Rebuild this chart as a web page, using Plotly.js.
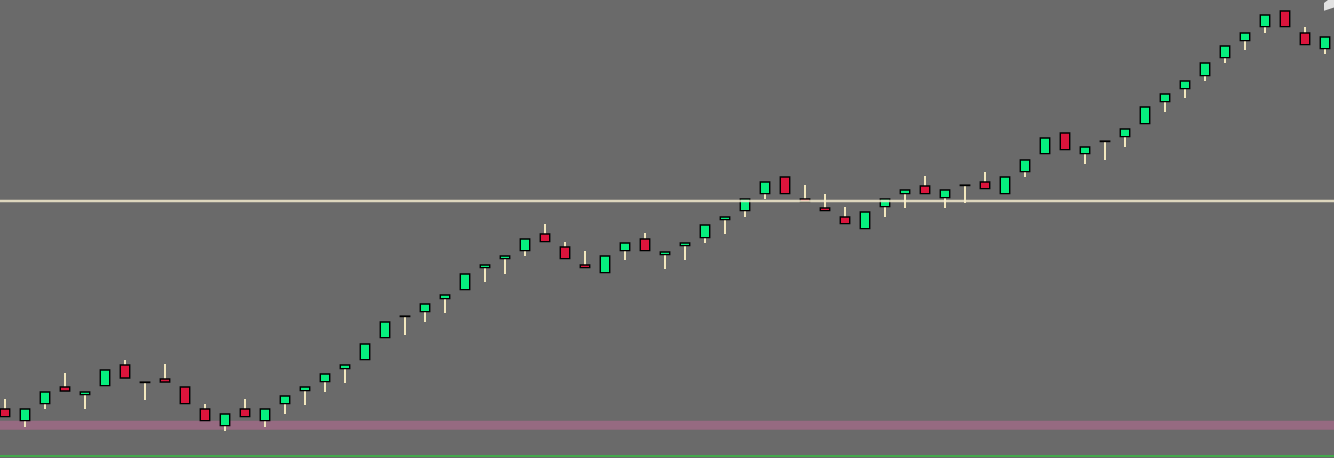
<!DOCTYPE html>
<html>
<head>
<meta charset="utf-8">
<script src="https://cdn.plot.ly/plotly-3.0.1.min.js"></script>
<style>
html,body{margin:0;padding:0;background:#6a6a6a;}
#chart{width:1334px;height:458px;}
</style>
</head>
<body>
<div id="chart"></div>
<script>
// Candle values, one entry per bar
const open  = [49.0,37.4,54.4,71.0,63.4,72.4,93.0,75.5,79.0,71.0,49.0,32.4,49.0,37.4,54.4,67.4,76.4,89.4,98.4,120.4,141.5,146.4,159.4,168.4,190.4,199.4,207.4,224.0,211.0,193.0,185.4,207.4,219.0,203.4,212.4,220.4,238.4,247.4,264.4,281.0,259.0,250.0,241.0,229.4,251.4,264.4,272.0,260.4,272.5,276.0,264.4,286.4,304.4,325.0,304.4,316.5,321.4,334.4,356.4,369.4,382.4,400.4,417.4,431.4,447.0,425.0,409.4];
const high  = [59.0,49.0,66.0,85.0,66.0,88.0,98.0,75.9,94.0,71.0,54.0,44.0,58.7,49.0,62.0,71.0,84.0,93.0,114.0,136.0,141.9,154.0,163.0,184.0,193.0,202.0,219.0,234.0,216.0,207.0,202.0,215.0,225.0,206.0,215.0,233.0,241.0,259.0,276.0,281.0,273.0,264.0,251.0,246.0,259.0,268.0,282.0,268.0,272.9,286.0,281.0,298.0,320.0,325.0,311.0,316.9,329.0,351.0,364.0,377.0,395.0,412.0,425.0,443.0,447.0,430.7,421.0];
const low   = [41.4,31.3,49.3,67.0,49.3,72.4,80.0,58.0,76.0,54.4,37.4,27.3,41.4,31.3,44.3,53.3,66.3,75.3,98.4,120.4,123.3,136.3,145.3,168.4,176.3,184.3,202.3,216.4,199.4,190.4,185.4,198.3,207.4,189.3,198.3,215.3,224.3,241.3,259.3,264.4,256.4,247.4,234.4,229.4,241.3,250.3,264.4,250.3,255.3,269.4,264.4,281.3,304.4,308.4,294.3,298.3,311.3,334.4,346.3,360.3,377.3,395.3,408.3,425.3,431.4,413.4,403.7];
const close = [41.4,49.0,66.0,67.0,66.0,88.0,80.0,75.9,76.0,54.4,37.4,44.0,41.4,49.0,62.0,71.0,84.0,93.0,114.0,136.0,141.9,154.0,163.0,184.0,193.0,202.0,219.0,216.4,199.4,190.4,202.0,215.0,207.4,206.0,215.0,233.0,241.0,259.0,276.0,264.4,256.4,247.4,234.4,246.0,259.0,268.0,264.4,268.0,272.9,269.4,281.0,298.0,320.0,308.4,311.0,316.9,329.0,351.0,364.0,377.0,395.0,412.0,425.0,443.0,431.4,413.4,421.0];

// Reference levels
const levelLine = 257;      // cream horizontal line
const bandLow = 28.3, bandHigh = 37.3;  // mauve band
const baseLine = 2;         // green line at the bottom

const UP = '#06ef7e', DOWN = '#dc143c', WICK = '#f2e7bd';

const idx = open.map((_, i) => i);
const bodyBase = open.map((o, i) => Math.min(o, close[i]));
const bodySize = open.map((o, i) => Math.abs(close[i] - o));
const bodyColor = open.map((o, i) => close[i] >= o ? UP : DOWN);

const wicks = {
  type: 'bar', x: idx, base: low, y: high.map((h, i) => h - low[i]),
  width: 0.07, marker: {color: WICK, line: {width: 0}},
  hoverinfo: 'skip', showlegend: false
};
const bodies = {
  type: 'bar', x: idx, base: bodyBase, y: bodySize,
  width: 0.47, marker: {color: bodyColor, line: {color: '#000', width: 1.4}},
  showlegend: false
};

const layout = {
  width: 1334, height: 458,
  margin: {l: 0, r: 0, t: 0, b: 0, pad: 0},
  paper_bgcolor: '#6a6a6a', plot_bgcolor: '#6a6a6a',
  barmode: 'overlay', bargap: 0,
  showlegend: false,
  xaxis: {range: [-0.25, 66.45], visible: false, fixedrange: true},
  yaxis: {range: [0, 458], visible: false, fixedrange: true},
  shapes: [
    {type: 'rect', xref: 'paper', x0: 0, x1: 1, yref: 'y', y0: bandLow, y1: bandHigh,
     fillcolor: '#966a81', line: {width: 0}, layer: 'below'},
    {type: 'line', xref: 'paper', x0: 0, x1: 1, yref: 'y', y0: baseLine, y1: baseLine,
     line: {color: '#43a84c', width: 2}, layer: 'above'},
    {type: 'line', xref: 'paper', x0: 0, x1: 1, yref: 'y', y0: levelLine, y1: levelLine,
     line: {color: 'rgba(246,238,208,0.82)', width: 2.5}, layer: 'above'},
    {type: 'path', xref: 'x', yref: 'y',
     path: 'M 65.95 455 L 66.15 458 L 66.45 458 L 66.45 450.5 L 65.95 447.3 Z',
     fillcolor: '#e2e2e2', line: {width: 0}, layer: 'above'}
  ]
};

Plotly.newPlot('chart', [wicks, bodies], layout, {displayModeBar: false, staticPlot: true});
</script>
</body>
</html>
